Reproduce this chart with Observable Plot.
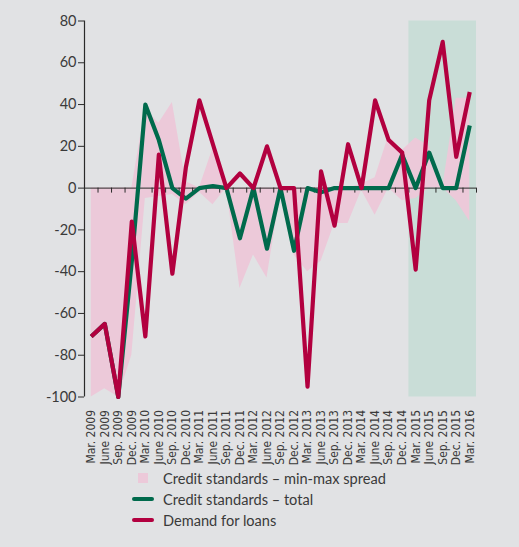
<!DOCTYPE html>
<html>
<head>
<meta charset="utf-8">
<script src="https://cdn.jsdelivr.net/npm/d3@7"></script>
<script src="https://cdn.jsdelivr.net/npm/@observablehq/plot@0.6"></script>
<style>
  html, body { margin: 0; padding: 0; background: #e1e2e4; }
  body { width: 519px; height: 547px; position: relative; overflow: hidden; font-family: Lato, "Open Sans", sans-serif; }
  #chart { position: absolute; left: 0; top: 0; }
  #legend { position: absolute; left: 0; top: 468px; width: 519px; color: #3a3a3a; font-size: 14.6px; }
  .row { position: absolute; left: 132px; height: 20px; display: flex; align-items: center; }
  .sym { width: 22px; display: flex; justify-content: center; align-items: center; margin-right: 9px; }
  .sq { width: 10px; height: 10px; }
  .ln { width: 22px; height: 4px; border-radius: 2px; }
</style>
</head>
<body>
<div id="chart"></div>
<div id="legend"></div>
<script>
const labels = ["Mar. 2009","June 2009","Sep. 2009","Dec. 2009","Mar. 2010","June 2010","Sep. 2010","Dec. 2010","Mar. 2011","June 2011","Sep. 2011","Dec. 2011","Mar. 2012","June 2012","Sep. 2012","Dec. 2012","Mar. 2013","June 2013","Sep. 2013","Dec. 2013","Mar. 2014","June 2014","Sep. 2014","Dec. 2014","Mar. 2015","June 2015","Sep. 2015","Dec. 2015","Mar. 2016"];
const demandForLoans = [-71,-65,-100,-16,-71,16,-41,10,42,21,0,7,0,20,0,0,-95,8,-18,21,0,42,23,17,-39,42,70,15,46];
const creditTotal = [-71,-65,-100,-35,40,23,0,-5,0,1,0,-24,0,-29,0,-30,0,-2,0,0,0,0,0,16,0,17,0,0,30];
const spreadMax = [0,0,0,0,38,31,41,3,0,19,0,0,0,0,0,0,0,0,0,0,2,5,25,18,24,20,0,43,43];
const spreadMin = [-100,-96,-100,-80,-5,-4,-3,-8,-2,-8,0,-48,-32,-43,-3,-32,-40,-35,-17,-17,-1,-13,0,-6,-5,0,0,-6,-16];
const yTicks = [-100,-80,-60,-40,-20,0,20,40,60,80];
const highlightFrom = "Mar. 2015";
const seriesNames = ["Credit standards \u2013 min-max spread","Credit standards \u2013 total","Demand for loans"];
const colors = {spread: "#ecc9d9", total: "#006a4c", demand: "#b2003f", shade: "#c9ddd7", text: "#3a3a3a", axis: "#2a2a2a"};

const rows = labels.map((q, i) => ({i, q, demand: demandForLoans[i], total: creditTotal[i], lo: spreadMin[i], hi: spreadMax[i]}));
const n = labels.length;
const bounds = d3.range(n).map(i => i + 0.5);
const hStart = labels.indexOf(highlightFrom) - 0.5;

const chart = Plot.plot({
  width: 519,
  height: 547,
  marginLeft: 84,
  marginRight: 43,
  marginTop: 20.5,
  marginBottom: 150.5,
  style: {background: "transparent", color: colors.text, fontFamily: "Lato, 'Open Sans', sans-serif", overflow: "visible"},
  x: {type: "linear", domain: [-0.5, n - 0.5]},
  y: {domain: [-100, 80]},
  marks: [
    Plot.rect([{x1: hStart, x2: n - 0.5}], {x1: "x1", x2: "x2", y1: -100, y2: 80, fill: colors.shade}),
    Plot.areaY(rows, {x: "i", y1: "lo", y2: "hi", fill: colors.spread}),
    Plot.ruleY([0], {stroke: colors.axis, strokeWidth: 1}),
    Plot.ruleX(bounds, {x: d => d, y1: 0, y2: 0, insetBottom: -5, stroke: colors.axis, strokeWidth: 1}),
    Plot.ruleX([-0.5], {y1: -100, y2: 80, stroke: colors.axis, strokeWidth: 1.2}),
    Plot.line(rows, {x: "i", y: "total", stroke: colors.total, strokeWidth: 4.2, strokeLinejoin: "round", strokeLinecap: "butt"}),
    Plot.line(rows, {x: "i", y: "demand", stroke: colors.demand, strokeWidth: 4.2, strokeLinejoin: "round", strokeLinecap: "butt"}),
    Plot.axisY({ticks: yTicks, tickFormat: d => String(d), tickSize: 6, tickPadding: 2, fontSize: 14.5, stroke: colors.axis, fill: colors.text}),
    Plot.axisX({ticks: d3.range(n), tickFormat: i => labels[i], tickRotate: -90, tickSize: 0, tickPadding: 13, fontSize: 12, fontFamily: "'Liberation Sans Narrow', 'DejaVu Sans Condensed', sans-serif", fill: colors.text})
  ]
});
document.getElementById("chart").appendChild(chart);

const legend = document.getElementById("legend");
const legendItems = [
  {name: seriesNames[0], type: "sq", color: colors.spread},
  {name: seriesNames[1], type: "ln", color: colors.total},
  {name: seriesNames[2], type: "ln", color: colors.demand}
];
legendItems.forEach((it, k) => {
  const row = document.createElement("div");
  row.className = "row";
  row.style.top = (k * 21) + "px";
  const sym = document.createElement("div");
  sym.className = "sym";
  const s = document.createElement("div");
  s.className = it.type;
  s.style.background = it.color;
  sym.appendChild(s);
  const t = document.createElement("span");
  t.textContent = it.name;
  row.appendChild(sym);
  row.appendChild(t);
  legend.appendChild(row);
});
</script>
</body>
</html>
